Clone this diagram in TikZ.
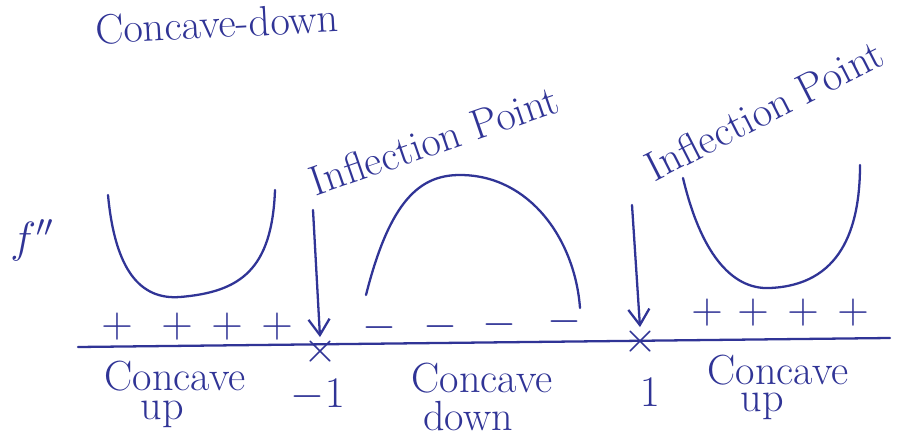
\documentclass[tikz,border=0pt]{standalone}
\usetikzlibrary{arrows.meta}
\definecolor{inchiostro}{RGB}{48,52,150}

\begin{document}
\begin{tikzpicture}[
    x=0.02cm, y=-0.02cm,
    penna/.style={draw=inchiostro, line width=1.3pt, line cap=round},
    freccia/.style={penna, -{Straight Barb[length=9pt, width=12pt, line width=1.3pt]}},
    scritta/.style={text=inchiostro, font=\fontsize{24}{26}\selectfont, inner sep=0pt},
    segno/.style={text=inchiostro, font=\fontsize{28}{30}\selectfont, inner sep=0pt},
    croce/.style={text=inchiostro, font=\fontsize{24}{26}\selectfont, inner sep=0pt}
]

    % 0. Cornice del foglio
    \useasboundingbox (0,0) rectangle (922,442);
    \fill[white] (0,0) rectangle (922,442);

    % 1. Titolo in alto
    \node[scritta, rotate=3, anchor=west] (titolo) at (95,30) {Concave-down};

    % 2. Asse e punti di flesso
    \coordinate (A0) at (78,347);
    \coordinate (A1) at (890,338);
    \draw[penna] (A0) -- (A1);

    \node[croce] (X1) at (320,352) {$\times$};
    \node[croce] (X2) at (640,342) {$\times$};

    % 3. Etichette "Inflection Point" e frecce
    \node[scritta, rotate=19] (IP1) at (434,140) {Inflection Point};
    \node[scritta, rotate=27] (IP2) at (764,110) {Inflection Point};

    \coordinate (F1) at (313,210);
    \coordinate (F2) at (632,205);
    \draw[freccia] (F1) -- (X1.north);
    \draw[freccia] (F2) -- (X2.north);

    % 4. f''
    \node[scritta] (fsec) at (32,240) {$f''$};

    % 5. Curve
    % concava verso l'alto (sinistra)
    \draw[penna] (108,195) .. controls (115,270) and (140,300) .. (180,297)
                           .. controls (240,292) and (272,270) .. (275,190);
    % concava verso il basso (centro)
    \draw[penna] (366,295) .. controls (390,200) and (420,175) .. (460,175)
                           .. controls (530,175) and (575,240) .. (580,308);
    % concava verso l'alto (destra)
    \draw[penna] (683,178) .. controls (700,250) and (730,290) .. (770,288)
                           .. controls (840,285) and (860,230) .. (860,165);

    % 6. Segni di f''
    \foreach \x/\n in {117/p1, 177/p2, 227/p3, 277/p4}
        \node[segno] (\n) at (\x,327) {$+$};
    \foreach \x/\y/\n in {379/328/m1, 440/327/m2, 499/325/m3, 564/322/m4}
        \node[segno] (\n) at (\x,\y) {$-$};
    \foreach \x/\n in {707/q1, 753/q2, 803/q3, 853/q4}
        \node[segno] (\n) at (\x,313) {$+$};

    % 7. Etichette sotto l'asse
    \node[scritta] (cu1) at (175,376) {Concave};
    \node[scritta] (up1) at (162,414) {up};
    \node[scritta] (meno) at (318,395) {$-1$};
    \node[scritta] (cd) at (482,378) {Concave};
    \node[scritta] (down) at (468,416) {down};
    \node[scritta] (uno) at (650,392) {$1$};
    \node[scritta] (cu2) at (778,370) {Concave};
    \node[scritta] (up2) at (762,406) {up};

\end{tikzpicture}
\end{document}
